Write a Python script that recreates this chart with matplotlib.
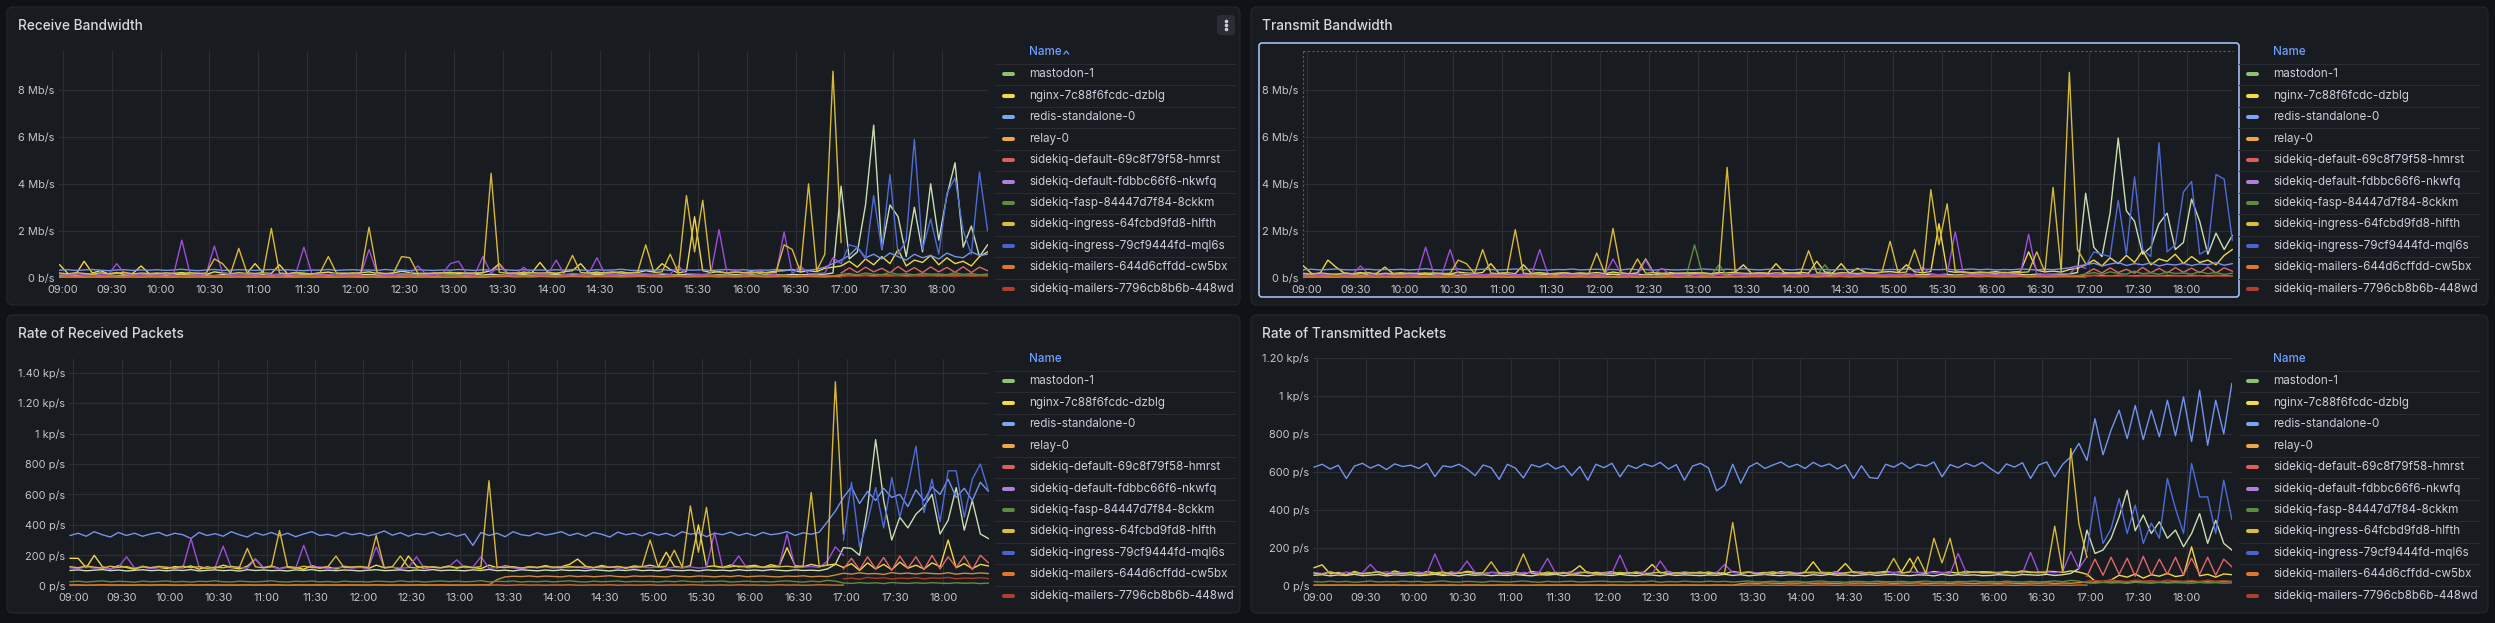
import numpy as np
import matplotlib.pyplot as plt
from matplotlib.patches import FancyBboxPatch

plt.rcParams['font.family'] = ['Inter', 'DejaVu Sans']

W, H = 2495, 623

names = [
    'mastodon-1', 'nginx-7c88f6fcdc-dzblg', 'redis-standalone-0', 'relay-0',
    'sidekiq-default-69c8f79f58-hmrst', 'sidekiq-default-fdbbc66f6-nkwfq',
    'sidekiq-fasp-84447d7f84-8ckkm', 'sidekiq-ingress-64fcbd9fd8-hlfth',
    'sidekiq-ingress-79cf9444fd-mql6s', 'sidekiq-mailers-644d6cffdd-cw5bx',
    'sidekiq-mailers-7796cb8b6b-448wd',
]
swatch_colors = ['#8fc16e', '#f2da48', '#7da5f4', '#efa54b', '#db605b', '#b07fdb',
                 '#5e8b3f', '#d8be3c', '#4a63cf', '#dd7630', '#ae4030']
line_colors = ['#c9ddb2', '#f0d848', '#7393ec', '#d08a3a', '#e0676a', '#9d4edd',
               '#5c8e43', '#d7b93a', '#4f6bd6', '#d66f2a', '#a93b2b']
# pods that live the whole time, only before, or only after the 16:58 rollout
span = ['all', 'all', 'all', 'all', 'new', 'old', 'all', 'old', 'new', 'old', 'new']

# 5 minute samples, 08:58 .. 18:28 (hours)
times = 8 + 58 / 60 + np.arange(115) * 5 / 60

hour_ticks = [9, 9.5, 10, 10.5, 11, 11.5, 12, 12.5, 13, 13.5, 14, 14.5, 15, 15.5,
              16, 16.5, 17, 17.5, 18]
hour_labels = ['09:00', '09:30', '10:00', '10:30', '11:00', '11:30', '12:00', '12:30',
               '13:00', '13:30', '14:00', '14:30', '15:00', '15:30', '16:00', '16:30',
               '17:00', '17:30', '18:00']
bw_ticks = [0, 2, 4, 6, 8]
bw_labels = ['0 b/s', '2 Mb/s', '4 Mb/s', '6 Mb/s', '8 Mb/s']
rxp_ticks = [0, 200, 400, 600, 800, 1000, 1200, 1400]
rxp_labels = ['0 p/s', '200 p/s', '400 p/s', '600 p/s', '800 p/s', '1 kp/s',
              '1.20 kp/s', '1.40 kp/s']
txp_ticks = [0, 200, 400, 600, 800, 1000, 1200]
txp_labels = ['0 p/s', '200 p/s', '400 p/s', '600 p/s', '800 p/s', '1 kp/s', '1.20 kp/s']

# ---------------- Receive Bandwidth (Mb/s) ----------------
rxb_mastodon = [
    0.10, 0.12, 0.09, 0.11, 0.13, 0.10, 0.12, 0.09, 0.11, 0.10, 0.13, 0.11,
    0.12, 0.10, 0.11, 0.14, 0.10, 0.12, 0.11, 0.09, 0.13, 0.11, 0.10, 0.12,
    0.11, 0.13, 0.10, 0.12, 0.09, 0.11, 0.12, 0.10, 0.13, 0.11, 0.10, 0.12,
    0.10, 0.12, 0.14, 0.11, 0.10, 0.13, 0.11, 0.12, 0.10, 0.11, 0.13, 0.10,
    0.12, 0.11, 0.10, 0.13, 0.11, 0.15, 0.12, 0.10, 0.11, 0.13, 0.10, 0.12,
    0.11, 0.13, 0.10, 0.12, 0.11, 0.10, 0.14, 0.11, 0.12, 0.10, 0.13, 0.11,
    0.12, 0.10, 0.13, 0.11, 0.12, 0.14, 0.11, 0.13, 0.10, 0.12, 0.11, 0.13,
    0.11, 0.12, 0.10, 0.13, 0.12, 0.11, 0.14, 0.12, 0.13, 0.11, 0.15, 0.20,
    3.90, 0.80, 1.10, 3.10, 6.50, 1.20, 3.10, 2.60, 0.90, 3.00, 1.10, 4.00,
    1.60, 3.50, 4.90, 1.30, 2.20, 0.90, 1.40,
]
rxb_nginx = [
    0.55, 0.18, 0.15, 0.70, 0.20, 0.30, 0.16, 0.22, 0.14, 0.19, 0.50, 0.17,
    0.20, 0.15, 0.18, 0.22, 0.16, 0.19, 0.14, 0.25, 0.20, 0.17, 0.21, 0.18,
    0.60, 0.20, 0.18, 0.55, 0.16, 0.22, 0.18, 0.15, 0.20, 0.24, 0.17, 0.19,
    0.16, 0.21, 0.25, 0.18, 0.15, 0.20, 0.28, 0.22, 0.17, 0.19, 0.16, 0.21,
    0.23, 0.18, 0.20, 0.17, 0.22, 0.30, 0.60, 0.19, 0.16, 0.24, 0.20, 0.65,
    0.22, 0.18, 0.26, 0.30, 0.60, 0.20, 0.24, 0.18, 0.21, 0.25, 0.19, 0.22,
    0.30, 0.24, 0.60, 0.35, 0.20, 0.28, 2.60, 0.30, 0.22, 0.26, 0.20, 0.24,
    0.21, 0.25, 0.19, 0.23, 0.28, 0.30, 0.35, 0.24, 0.30, 0.26, 0.40, 0.45,
    0.50, 0.70, 0.45, 0.80, 0.55, 0.90, 0.60, 1.20, 0.50, 0.75, 0.65, 0.95,
    0.55, 0.85, 0.60, 0.70, 0.50, 0.90, 1.10,
]
rxb_redis = [
    0.32, 0.34, 0.31, 0.33, 0.35, 0.32, 0.30, 0.33, 0.34, 0.31, 0.33, 0.32,
    0.34, 0.31, 0.33, 0.36, 0.32, 0.30, 0.33, 0.35, 0.31, 0.32, 0.34, 0.33,
    0.31, 0.33, 0.35, 0.32, 0.34, 0.31, 0.30, 0.33, 0.32, 0.35, 0.31, 0.33,
    0.34, 0.32, 0.33, 0.31, 0.35, 0.32, 0.33, 0.30, 0.34, 0.32, 0.31, 0.33,
    0.32, 0.35, 0.33, 0.31, 0.34, 0.32, 0.36, 0.33, 0.31, 0.34, 0.32, 0.33,
    0.31, 0.34, 0.32, 0.35, 0.33, 0.31, 0.34, 0.32, 0.33, 0.36, 0.32, 0.31,
    0.33, 0.32, 0.35, 0.31, 0.34, 0.33, 0.32, 0.34, 0.31, 0.33, 0.35, 0.32,
    0.34, 0.31, 0.33, 0.32, 0.35, 0.33, 0.31, 0.34, 0.32, 0.36, 0.45, 0.60,
    0.75, 0.95, 1.30, 0.85, 1.00, 0.80, 1.05, 0.90, 0.75, 1.00, 0.85, 0.95,
    0.80, 1.05, 0.90, 0.85, 1.10, 0.95, 1.00,
]
rxb_relay = [
    0.02, 0.03, 0.02, 0.02, 0.03, 0.02, 0.03, 0.02, 0.02, 0.03, 0.02, 0.03,
    0.03, 0.02, 0.02, 0.03, 0.02, 0.03, 0.02, 0.02, 0.03, 0.02, 0.03, 0.02,
    0.02, 0.03, 0.02, 0.03, 0.02, 0.02, 0.03, 0.02, 0.03, 0.02, 0.02, 0.03,
    0.03, 0.02, 0.03, 0.02, 0.02, 0.03, 0.02, 0.03, 0.02, 0.03, 0.02, 0.02,
    0.02, 0.03, 0.02, 0.03, 0.02, 0.05, 0.07, 0.06, 0.08, 0.07, 0.06, 0.07,
    0.07, 0.06, 0.08, 0.07, 0.06, 0.07, 0.08, 0.06, 0.07, 0.06, 0.08, 0.07,
    0.06, 0.08, 0.07, 0.06, 0.07, 0.08, 0.06, 0.07, 0.08, 0.06, 0.07, 0.06,
    0.08, 0.07, 0.06, 0.07, 0.08, 0.06, 0.07, 0.06, 0.08, 0.07, 0.06, 0.08,
    0.10, 0.12, 0.09, 0.11, 0.10, 0.12, 0.11, 0.09, 0.10, 0.12, 0.11, 0.10,
    0.11, 0.10, 0.12, 0.09, 0.11, 0.10, 0.12,
]
rxb_def69 = [0.20, 0.42, 0.22, 0.45, 0.25, 0.40, 0.21, 0.48, 0.24, 0.43, 0.22, 0.46,
             0.25, 0.44, 0.23, 0.47, 0.22, 0.45, 0.30]
rxb_deffd = [
    0.18, 0.14, 0.16, 0.13, 0.17, 0.15, 0.14, 0.60, 0.16, 0.13, 0.15, 0.17,
    0.14, 0.16, 0.15, 1.60, 0.18, 0.14, 0.16, 1.35, 0.20, 0.15, 0.14, 0.17,
    0.15, 0.18, 0.14, 0.16, 0.13, 0.17, 1.30, 0.15, 0.16, 0.14, 0.18, 0.15,
    0.17, 0.14, 1.20, 0.16, 0.15, 0.13, 0.18, 0.16, 0.50, 0.15, 0.14, 0.17,
    0.60, 0.70, 0.16, 0.15, 0.90, 0.18, 0.55, 0.16, 0.14, 0.45, 0.17, 0.15,
    0.16, 0.75, 0.14, 0.18, 0.15, 0.17, 0.85, 0.16, 0.14, 0.18, 0.15, 0.17,
    0.16, 0.14, 0.18, 0.15, 0.50, 0.17, 0.16, 0.14, 0.18, 2.05, 0.16, 0.35,
    0.15, 0.18, 0.30, 0.16, 0.14, 1.95, 0.17, 0.50, 0.16, 0.18, 0.20, 0.85,
    0.60,
]
rxb_fasp = [
    0.07, 0.08, 0.06, 0.09, 0.07, 0.08, 0.10, 0.07, 0.06, 0.08, 0.09, 0.07,
    0.08, 0.06, 0.09, 0.07, 0.08, 0.07, 0.06, 0.09, 0.08, 0.07, 0.10, 0.08,
    0.06, 0.08, 0.07, 0.09, 0.06, 0.08, 0.07, 0.10, 0.08, 0.06, 0.09, 0.07,
    0.09, 0.07, 0.08, 0.06, 0.09, 0.07, 0.08, 0.10, 0.07, 0.08, 0.06, 0.09,
    0.12, 0.08, 0.07, 0.09, 0.06, 0.08, 0.10, 0.07, 0.09, 0.08, 0.06, 0.09,
    0.08, 0.07, 0.09, 0.06, 0.10, 0.08, 0.07, 0.09, 0.08, 0.06, 0.09, 0.07,
    0.08, 0.10, 0.07, 0.09, 0.06, 0.08, 0.07, 0.09, 0.10, 0.07, 0.08, 0.06,
    0.09, 0.07, 0.08, 0.10, 0.07, 0.09, 0.06, 0.08, 0.09, 0.07, 0.10, 0.08,
    0.14, 0.18, 0.12, 0.20, 0.15, 0.13, 0.22, 0.14, 0.17, 0.12, 0.19, 0.15,
    0.16, 0.13, 0.21, 0.14, 0.18, 0.12, 0.16,
]
rxb_ing64 = [
    0.20, 0.16, 0.22, 0.18, 0.15, 0.21, 0.17, 0.19, 0.23, 0.16, 0.20, 0.18,
    0.17, 0.21, 0.19, 0.16, 0.22, 0.18, 0.20, 0.80, 0.60, 0.19, 1.25, 0.21,
    0.18, 0.22, 2.10, 0.20, 0.17, 0.21, 0.19, 0.16, 0.22, 0.90, 0.20, 0.18,
    0.21, 0.19, 2.15, 0.22, 0.18, 0.20, 0.90, 0.85, 0.19, 0.17, 0.21, 0.20,
    0.19, 0.22, 0.18, 0.21, 0.20, 4.45, 0.23, 0.19, 0.21, 0.18, 0.22, 0.20,
    0.21, 0.19, 0.23, 0.95, 0.22, 0.20, 0.18, 0.22, 0.25, 0.19, 0.21, 0.24,
    1.40, 0.22, 0.25, 1.00, 0.21, 3.50, 1.10, 3.30, 0.30, 0.24, 0.20, 0.23,
    0.22, 0.20, 0.24, 0.21, 0.23, 1.40, 1.20, 0.25, 4.00, 0.30, 1.00, 8.80,
    1.50,
]
rxb_ing79 = [0.60, 1.40, 1.30, 0.80, 3.50, 1.20, 4.40, 1.00, 1.60, 5.90, 1.20, 2.50,
             1.00, 3.60, 4.25, 2.00, 1.00, 4.50, 2.00]
rxb_mail644 = [
    0.04, 0.03, 0.05, 0.04, 0.03, 0.04, 0.05, 0.03, 0.04, 0.04, 0.03, 0.05,
    0.03, 0.04, 0.04, 0.05, 0.03, 0.04, 0.03, 0.05, 0.04, 0.03, 0.04, 0.04,
    0.05, 0.03, 0.04, 0.03, 0.04, 0.05, 0.04, 0.03, 0.04, 0.05, 0.03, 0.04,
    0.04, 0.05, 0.03, 0.04, 0.04, 0.03, 0.05, 0.04, 0.03, 0.04, 0.05, 0.03,
    0.03, 0.04, 0.05, 0.04, 0.03, 0.04, 0.04, 0.05, 0.03, 0.04, 0.03, 0.05,
    0.04, 0.03, 0.04, 0.05, 0.04, 0.03, 0.05, 0.04, 0.04, 0.03, 0.04, 0.05,
    0.05, 0.04, 0.03, 0.04, 0.05, 0.03, 0.04, 0.04, 0.05, 0.03, 0.04, 0.03,
    0.04, 0.05, 0.04, 0.03, 0.04, 0.05, 0.03, 0.04, 0.05, 0.04, 0.03, 0.05,
    0.04,
]
rxb_mail7796 = [0.05, 0.07, 0.06, 0.08, 0.05, 0.07, 0.06, 0.09, 0.05, 0.07, 0.06, 0.08,
                0.06, 0.07, 0.05, 0.08, 0.06, 0.07, 0.06]

# ---------------- Transmit Bandwidth (Mb/s) ----------------
txb_mastodon = [
    0.11, 0.13, 0.10, 0.12, 0.14, 0.11, 0.12, 0.10, 0.12, 0.11, 0.14, 0.12,
    0.13, 0.11, 0.12, 0.15, 0.11, 0.13, 0.12, 0.10, 0.14, 0.12, 0.11, 0.13,
    0.12, 0.14, 0.11, 0.13, 0.10, 0.12, 0.13, 0.11, 0.14, 0.12, 0.11, 0.13,
    0.11, 0.13, 0.15, 0.12, 0.11, 0.14, 0.12, 0.13, 0.11, 0.12, 0.14, 0.11,
    0.13, 0.12, 0.11, 0.14, 0.12, 0.16, 0.13, 0.11, 0.12, 0.14, 0.11, 0.13,
    0.12, 0.14, 0.11, 0.13, 0.12, 0.11, 0.15, 0.12, 0.13, 0.11, 0.14, 0.12,
    0.13, 0.11, 0.14, 0.12, 0.13, 0.15, 0.12, 0.14, 0.11, 0.13, 0.12, 0.14,
    0.12, 0.13, 0.11, 0.14, 0.13, 0.12, 0.15, 0.13, 0.14, 0.12, 0.16, 0.22,
    3.60, 1.30, 0.90, 2.75, 5.95, 2.85, 2.40, 1.00, 1.30, 2.30, 2.75, 1.20,
    1.50, 3.35, 2.40, 1.00, 1.90, 1.20, 1.80,
]
txb_nginx = [
    0.50, 0.18, 0.16, 0.75, 0.45, 0.20, 0.17, 0.22, 0.15, 0.19, 0.45, 0.18,
    0.21, 0.16, 0.18, 0.20, 0.17, 0.19, 0.15, 0.24, 0.20, 0.18, 0.22, 0.60,
    0.19, 0.21, 0.17, 0.55, 0.18, 0.22, 0.16, 0.19, 0.21, 0.17, 0.20, 0.18,
    0.22, 0.17, 0.24, 0.19, 0.16, 0.21, 0.80, 0.20, 0.18, 0.22, 0.17, 0.20,
    0.21, 0.19, 0.17, 0.22, 0.20, 0.24, 0.55, 0.18, 0.21, 0.19, 0.60, 0.22,
    0.20, 0.23, 0.19, 0.70, 0.24, 0.21, 0.60, 0.19, 0.40, 0.22, 0.20, 0.24,
    0.26, 0.22, 0.55, 0.25, 0.21, 0.27, 2.30, 0.28, 0.23, 0.25, 0.21, 0.24,
    0.22, 0.26, 0.20, 0.24, 0.27, 1.10, 0.32, 0.25, 0.28, 0.24, 0.35, 0.40,
    0.55, 0.75, 0.50, 0.85, 0.60, 0.95, 0.65, 1.15, 0.55, 0.80, 0.70, 1.00,
    0.60, 0.90, 0.65, 0.75, 0.55, 0.95, 1.20,
]
txb_redis = [
    0.34, 0.36, 0.33, 0.35, 0.37, 0.34, 0.33, 0.35, 0.36, 0.33, 0.35, 0.34,
    0.36, 0.33, 0.35, 0.38, 0.34, 0.33, 0.35, 0.37, 0.33, 0.34, 0.36, 0.35,
    0.33, 0.35, 0.37, 0.34, 0.36, 0.33, 0.32, 0.35, 0.34, 0.37, 0.33, 0.35,
    0.36, 0.34, 0.35, 0.33, 0.37, 0.34, 0.35, 0.32, 0.36, 0.34, 0.33, 0.35,
    0.34, 0.37, 0.35, 0.33, 0.36, 0.34, 0.38, 0.35, 0.33, 0.36, 0.34, 0.35,
    0.33, 0.36, 0.34, 0.37, 0.35, 0.33, 0.36, 0.34, 0.35, 0.38, 0.34, 0.33,
    0.35, 0.34, 0.37, 0.33, 0.36, 0.35, 0.34, 0.36, 0.33, 0.35, 0.37, 0.34,
    0.36, 0.33, 0.35, 0.34, 0.37, 0.35, 0.33, 0.36, 0.34, 0.38, 0.42, 0.50,
    0.55, 0.62, 0.50, 0.58, 0.65, 0.52, 0.60, 0.55, 0.63, 0.50, 0.58, 0.54,
    0.61, 0.52, 0.59, 0.55, 0.64, 0.53, 0.60,
]
txb_relay = [
    0.02, 0.02, 0.03, 0.02, 0.02, 0.03, 0.02, 0.02, 0.03, 0.02, 0.03, 0.02,
    0.02, 0.03, 0.02, 0.02, 0.03, 0.02, 0.03, 0.02, 0.02, 0.03, 0.02, 0.03,
    0.03, 0.02, 0.02, 0.03, 0.02, 0.03, 0.02, 0.02, 0.03, 0.02, 0.03, 0.02,
    0.02, 0.03, 0.02, 0.02, 0.03, 0.02, 0.03, 0.02, 0.02, 0.03, 0.02, 0.03,
    0.03, 0.02, 0.03, 0.02, 0.03, 0.04, 0.05, 0.06, 0.05, 0.06, 0.05, 0.06,
    0.06, 0.05, 0.06, 0.05, 0.06, 0.05, 0.06, 0.05, 0.06, 0.05, 0.06, 0.05,
    0.05, 0.06, 0.05, 0.06, 0.05, 0.06, 0.05, 0.06, 0.06, 0.05, 0.06, 0.05,
    0.06, 0.05, 0.06, 0.05, 0.06, 0.05, 0.06, 0.05, 0.06, 0.05, 0.06, 0.07,
    0.08, 0.10, 0.09, 0.08, 0.10, 0.09, 0.08, 0.10, 0.09, 0.08, 0.10, 0.09,
    0.08, 0.10, 0.09, 0.08, 0.10, 0.09, 0.08,
]
txb_def69 = [0.18, 0.38, 0.20, 0.42, 0.22, 0.36, 0.19, 0.44, 0.21, 0.40, 0.20, 0.43,
             0.23, 0.41, 0.21, 0.45, 0.20, 0.42, 0.28]
txb_deffd = [
    0.16, 0.13, 0.15, 0.12, 0.16, 0.14, 0.13, 0.50, 0.15, 0.12, 0.14, 0.16,
    0.13, 0.15, 0.14, 1.30, 0.17, 0.13, 1.20, 0.15, 0.18, 0.14, 0.13, 0.16,
    0.14, 0.17, 0.13, 0.15, 0.12, 1.20, 0.16, 0.14, 0.15, 0.13, 0.17, 0.14,
    0.16, 0.13, 0.80, 0.15, 0.14, 0.12, 0.75, 0.15, 0.40, 0.14, 0.13, 0.16,
    0.15, 0.14, 0.16, 0.13, 0.17, 0.15, 0.14, 0.16, 0.13, 0.15, 0.14, 0.16,
    0.14, 0.16, 0.13, 0.15, 0.14, 0.16, 0.15, 0.13, 0.16, 0.14, 0.15, 0.13,
    0.15, 0.13, 0.16, 0.14, 0.45, 0.15, 0.13, 0.16, 1.95, 0.14, 0.15, 0.16,
    0.14, 0.16, 0.13, 0.15, 0.17, 1.85, 0.16, 0.14, 0.15, 0.17, 0.16, 0.50,
    0.40,
]
txb_fasp = [
    0.08, 0.07, 0.09, 0.06, 0.08, 0.10, 0.07, 0.08, 0.06, 0.09, 0.07, 0.08,
    0.07, 0.09, 0.06, 0.08, 0.07, 0.10, 0.08, 0.06, 0.09, 0.07, 0.08, 0.07,
    0.09, 0.06, 0.08, 0.07, 0.10, 0.07, 0.08, 0.06, 0.09, 0.08, 0.07, 0.09,
    0.07, 0.08, 0.06, 0.09, 0.08, 0.07, 0.10, 0.06, 0.08, 0.07, 0.09, 0.08,
    1.40, 0.12, 0.08, 0.55, 0.09, 0.07, 0.08, 0.10, 0.06, 0.09, 0.08, 0.07,
    0.09, 0.08, 0.07, 0.10, 0.55, 0.09, 0.07, 0.08, 0.06, 0.09, 0.08, 0.10,
    0.07, 0.09, 0.08, 0.06, 0.10, 0.07, 0.09, 0.08, 0.07, 0.10, 0.06, 0.08,
    0.10, 0.08, 0.07, 0.09, 0.06, 0.08, 0.10, 0.07, 0.09, 0.08, 0.11, 0.09,
    0.16, 0.22, 0.14, 0.25, 0.18, 0.15, 0.28, 0.17, 0.21, 0.14, 0.24, 0.18,
    0.20, 0.15, 0.26, 0.17, 0.22, 0.14, 0.19,
]
txb_ing64 = [
    0.19, 0.15, 0.21, 0.17, 0.14, 0.20, 0.16, 0.18, 0.22, 0.15, 0.19, 0.17,
    0.16, 0.20, 0.18, 0.15, 0.21, 0.17, 0.19, 0.75, 0.60, 0.18, 1.20, 0.20,
    0.17, 0.21, 2.05, 0.19, 0.16, 0.20, 0.18, 0.15, 0.21, 0.17, 0.19, 0.16,
    1.05, 0.18, 2.10, 0.21, 0.17, 0.80, 0.19, 0.22, 0.18, 0.16, 0.20, 0.19,
    0.18, 0.21, 0.17, 0.20, 4.70, 0.22, 0.19, 0.18, 0.20, 0.17, 0.21, 0.19,
    0.20, 0.18, 1.15, 0.21, 0.19, 0.17, 0.22, 0.20, 0.18, 0.21, 0.19, 0.23,
    1.55, 0.21, 0.24, 1.20, 0.20, 3.75, 1.40, 3.15, 0.28, 0.23, 0.19, 0.22,
    0.21, 0.19, 0.23, 0.20, 0.22, 0.25, 1.10, 0.24, 3.85, 0.28, 8.75, 1.20,
    0.60,
]
txb_ing79 = [0.50, 1.10, 1.00, 0.90, 3.30, 1.00, 4.30, 1.20, 0.90, 5.75, 1.10, 1.40,
             3.65, 4.10, 1.00, 1.20, 4.40, 4.20, 1.60]
txb_mail644 = [
    0.03, 0.04, 0.04, 0.05, 0.03, 0.04, 0.03, 0.05, 0.04, 0.03, 0.04, 0.04,
    0.04, 0.03, 0.05, 0.04, 0.03, 0.04, 0.05, 0.03, 0.04, 0.04, 0.03, 0.05,
    0.04, 0.05, 0.03, 0.04, 0.04, 0.03, 0.05, 0.04, 0.03, 0.04, 0.05, 0.03,
    0.05, 0.03, 0.04, 0.04, 0.05, 0.03, 0.04, 0.03, 0.05, 0.04, 0.04, 0.03,
    0.04, 0.05, 0.03, 0.04, 0.05, 0.04, 0.03, 0.04, 0.04, 0.05, 0.03, 0.04,
    0.03, 0.04, 0.05, 0.03, 0.04, 0.04, 0.05, 0.03, 0.04, 0.05, 0.04, 0.03,
    0.04, 0.03, 0.04, 0.05, 0.03, 0.04, 0.05, 0.04, 0.03, 0.04, 0.05, 0.04,
    0.05, 0.04, 0.03, 0.04, 0.05, 0.03, 0.04, 0.04, 0.03, 0.05, 0.04, 0.04,
    0.03,
]
txb_mail7796 = [0.06, 0.08, 0.05, 0.07, 0.06, 0.09, 0.05, 0.07, 0.06, 0.08, 0.05, 0.07,
                0.07, 0.06, 0.08, 0.05, 0.07, 0.06, 0.07]

# ---------------- Rate of Received Packets (p/s) ----------------
rxp_mastodon = [
    100, 104, 98, 102, 106, 99, 103, 97, 101, 105, 99, 102,
    98, 103, 100, 106, 97, 101, 104, 99, 102, 96, 105, 100,
    103, 99, 101, 97, 104, 100, 106, 98, 102, 99, 103, 101,
    97, 102, 105, 99, 101, 104, 98, 103, 100, 106, 99, 102,
    101, 98, 104, 100, 107, 99, 102, 97, 105, 101, 98, 103,
    99, 104, 100, 102, 98, 105, 101, 97, 103, 100, 106, 99,
    102, 98, 105, 101, 99, 103, 97, 104, 100, 102, 98, 105,
    100, 103, 99, 106, 101, 98, 104, 100, 102, 99, 110, 140,
    250, 245, 200, 515, 960, 560, 300, 450, 380, 470, 520, 600,
    340, 430, 645, 365, 560, 340, 310,
]
rxp_nginx = [
    180, 180, 118, 200, 125, 110, 132, 120, 108, 128, 115, 122,
    112, 126, 118, 130, 108, 124, 115, 135, 120, 110, 128, 175,
    118, 130, 112, 125, 120, 108, 132, 116, 124, 110, 128, 119,
    126, 112, 135, 118, 122, 110, 195, 128, 114, 125, 118, 130,
    115, 128, 120, 112, 135, 118, 130, 122, 110, 126, 119, 132,
    120, 125, 140, 175, 128, 118, 133, 121, 127, 115, 130, 124,
    135, 122, 220, 128, 118, 132, 400, 125, 130, 120, 136, 124,
    128, 134, 120, 138, 126, 250, 132, 124, 140, 128, 135, 142,
    120, 145, 100, 150, 110, 140, 105, 155, 115, 135, 110, 150,
    125, 300, 118, 145, 112, 140, 130,
]
rxp_redis = [
    330, 345, 325, 355, 335, 320, 350, 330, 345, 325, 340, 350,
    328, 345, 335, 310, 350, 330, 342, 325, 355, 335, 320, 348,
    332, 350, 328, 345, 322, 340, 355, 330, 338, 325, 350, 335,
    345, 328, 340, 360, 332, 348, 325, 343, 335, 352, 330, 345,
    325, 340, 265, 350, 330, 345, 322, 355, 335, 328, 348, 332,
    342, 355, 330, 345, 325, 350, 338, 320, 352, 335, 345, 328,
    350, 332, 345, 325, 355, 338, 348, 322, 345, 335, 352, 330,
    345, 328, 350, 335, 342, 355, 330, 348, 338, 352, 420, 490,
    580, 650, 540, 620, 560, 640, 580, 600, 520, 630, 560, 650,
    600, 700, 580, 640, 560, 680, 620,
]
rxp_relay = [
    4, 5, 3, 4, 6, 4, 5, 3, 4, 5, 4, 6,
    5, 4, 3, 5, 4, 6, 4, 5, 3, 4, 5, 4,
    4, 6, 5, 3, 4, 5, 4, 6, 5, 4, 3, 5,
    5, 4, 6, 4, 3, 5, 4, 5, 6, 4, 5, 3,
    4, 5, 4, 6, 5, 40, 58, 62, 60, 64, 59, 63,
    61, 58, 65, 60, 63, 59, 62, 66, 60, 58, 64, 61,
    63, 60, 58, 65, 61, 59, 64, 62, 58, 63, 60, 66,
    59, 62, 64, 60, 58, 63, 61, 65, 59, 62, 60, 70,
    82, 76, 85, 78, 80, 74, 86, 79, 83, 77, 84, 80,
    78, 85, 76, 82, 79, 84, 80,
]
rxp_def69 = [110, 180, 105, 190, 110, 185, 100, 195, 115, 190, 105, 200,
             110, 190, 120, 195, 105, 200, 150]
rxp_deffd = [
    118, 112, 125, 115, 120, 110, 122, 190, 116, 124, 112, 119,
    121, 114, 118, 310, 125, 116, 120, 260, 118, 122, 114, 175,
    117, 123, 112, 120, 115, 265, 119, 124, 111, 118, 122, 116,
    120, 114, 255, 118, 122, 115, 119, 190, 113, 121, 117, 124,
    170, 118, 122, 190, 115, 120, 124, 117, 112, 121, 118, 123,
    116, 122, 119, 125, 113, 120, 118, 124, 115, 121, 117, 122,
    119, 123, 115, 121, 118, 124, 116, 120, 350, 118, 122, 195,
    117, 123, 119, 121, 125, 340, 118, 122, 126, 120, 160, 255,
    200,
]
rxp_fasp = [
    26, 30, 24, 28, 32, 25, 29, 27, 23, 30, 26, 28,
    31, 25, 28, 24, 29, 27, 32, 26, 24, 30, 27, 25,
    28, 32, 26, 24, 29, 27, 31, 25, 28, 23, 30, 26,
    27, 24, 30, 28, 25, 32, 26, 29, 24, 28, 31, 27,
    30, 26, 28, 33, 25, 29, 27, 31, 24, 28, 26, 30,
    25, 29, 32, 27, 24, 30, 26, 28, 31, 25, 29, 27,
    28, 24, 30, 26, 32, 27, 25, 29, 28, 31, 24, 27,
    30, 26, 28, 25, 29, 32, 27, 24, 30, 26, 35, 30,
    18, 15, 20, 16, 19, 14, 21, 17, 15, 19, 16, 20,
    17, 15, 19, 16, 18, 14, 17,
]
rxp_ing64 = [
    125, 118, 130, 122, 115, 128, 120, 126, 112, 124, 119, 127,
    121, 116, 128, 119, 125, 113, 122, 118, 127, 120, 245, 124,
    118, 126, 363, 121, 115, 128, 120, 117, 125, 195, 119, 123,
    126, 120, 330, 118, 124, 195, 122, 116, 127, 121, 118, 125,
    120, 124, 118, 126, 690, 122, 119, 125, 117, 123, 120, 128,
    122, 118, 126, 121, 124, 119, 127, 120, 125, 118, 123, 126,
    300, 124, 128, 233, 122, 525, 220, 515, 126, 121, 125, 129,
    123, 127, 121, 126, 124, 128, 122, 130, 613, 126, 135, 1340,
    340,
]
rxp_ing79 = [300, 680, 255, 420, 645, 380, 710, 450, 655, 917, 480, 700,
             420, 755, 755, 450, 700, 800, 625]
rxp_mail644 = [
    4, 5, 3, 4, 6, 4, 3, 5, 4, 6, 3, 4,
    5, 3, 4, 6, 4, 5, 3, 4, 5, 4, 6, 3,
    4, 5, 4, 3, 6, 4, 5, 3, 4, 5, 6, 4,
    3, 4, 5, 4, 6, 3, 4, 5, 3, 4, 6, 5,
    4, 3, 5, 6, 4, 5, 3, 4, 6, 4, 5, 3,
    5, 4, 6, 3, 4, 5, 4, 6, 3, 5, 4, 4,
    6, 3, 4, 5, 4, 6, 5, 3, 4, 5, 3, 6,
    4, 5, 3, 4, 6, 4, 5, 3, 4, 6, 5, 4,
    4,
]
rxp_mail7796 = [45, 50, 42, 55, 48, 52, 44, 50, 47, 53, 45, 51,
                49, 54, 46, 50, 48, 52, 47]

# ---------------- Rate of Transmitted Packets (p/s) ----------------
txp_mastodon = [
    55, 58, 52, 57, 54, 60, 53, 56, 59, 52, 57, 55,
    58, 53, 56, 60, 54, 57, 52, 59, 55, 58, 53, 56,
    54, 59, 55, 52, 58, 56, 60, 53, 57, 55, 52, 58,
    57, 54, 60, 55, 53, 58, 56, 52, 59, 54, 57, 55,
    53, 57, 55, 60, 54, 58, 52, 56, 59, 55, 53, 57,
    56, 52, 58, 54, 60, 55, 57, 53, 56, 59, 54, 58,
    59, 55, 53, 57, 56, 52, 60, 54, 58, 55, 57, 53,
    54, 58, 56, 53, 59, 57, 55, 60, 54, 58, 65, 90,
    293, 170, 188, 250, 363, 503, 290, 372, 275, 337, 250, 293,
    205, 275, 380, 223, 345, 223, 188,
]
txp_nginx = [
    95, 110, 62, 70, 58, 75, 64, 68, 72, 60, 78, 66,
    70, 62, 74, 68, 60, 72, 65, 76, 70, 63, 70, 68,
    64, 72, 60, 75, 68, 62, 70, 66, 73, 105, 65, 70,
    68, 74, 62, 70, 65, 72, 112, 67, 74, 63, 70, 66,
    72, 64, 70, 62, 75, 68, 73, 66, 70, 62, 74, 68,
    65, 72, 126, 70, 66, 74, 117, 68, 72, 64, 70, 75,
    68, 74, 144, 70, 65, 75, 68, 72, 66, 76, 70, 74,
    72, 68, 75, 70, 78, 72, 68, 76, 74, 70, 78, 72,
    60, 25, 22, 30, 55, 45, 62, 40, 58, 50, 65, 48,
    55, 205, 52, 60, 45, 62, 58,
]
txp_redis = [
    625, 640, 615, 635, 565, 630, 645, 620, 638, 612, 642, 628,
    635, 618, 645, 575, 632, 625, 640, 615, 580, 636, 622, 560,
    640, 620, 568, 638, 625, 645, 615, 632, 580, 628, 556, 640,
    622, 645, 574, 635, 618, 642, 628, 650, 615, 638, 556, 630,
    645, 620, 500, 530, 640, 540, 625, 648, 618, 636, 652, 625,
    640, 618, 650, 628, 642, 615, 638, 565, 632, 570, 565, 640,
    625, 648, 618, 640, 630, 652, 574, 638, 622, 645, 628, 650,
    618, 590, 642, 625, 648, 565, 636, 652, 574, 640, 680, 750,
    660, 880, 690, 820, 925, 775, 950, 770, 925, 785, 977, 790,
    995, 760, 1030, 740, 977, 800, 1065,
]
txp_relay = [
    3, 4, 2, 3, 4, 3, 2, 4, 3, 3, 4, 2,
    3, 2, 4, 3, 3, 4, 2, 3, 4, 3, 2, 4,
    4, 3, 2, 3, 4, 2, 3, 4, 3, 2, 4, 3,
    2, 4, 3, 3, 2, 4, 3, 2, 4, 3, 3, 4,
    3, 2, 4, 3, 3, 10, 14, 12, 15, 13, 12, 14,
    13, 15, 12, 14, 13, 12, 15, 13, 14, 12, 13, 15,
    12, 14, 13, 15, 12, 13, 14, 12, 15, 13, 12, 14,
    14, 12, 15, 13, 12, 14, 13, 15, 12, 14, 13, 16,
    20, 18, 22, 19, 21, 18, 23, 20, 19, 22, 18, 21,
    20, 22, 19, 21, 18, 22, 20,
]
txp_def69 = [50, 140, 55, 150, 60, 145, 50, 155, 55, 140, 60, 150,
             55, 145, 60, 150, 55, 140, 100]
txp_deffd = [
    70, 64, 75, 62, 72, 66, 68, 112, 65, 74, 63, 70,
    66, 72, 64, 167, 70, 65, 73, 130, 68, 62, 71, 66,
    74, 63, 70, 67, 72, 144, 65, 71, 64, 73, 68, 62,
    70, 66, 161, 64, 72, 68, 63, 130, 70, 65, 74, 67,
    64, 71, 68, 112, 70, 65, 73, 67, 62, 72, 68, 74,
    66, 70, 64, 73, 68, 71, 65, 74, 69, 63, 72, 67,
    71, 65, 74, 68, 72, 66, 70, 64, 170, 69, 73, 67,
    65, 72, 68, 74, 66, 175, 70, 73, 68, 75, 180, 90,
    153,
]
txp_fasp = [
    22, 19, 24, 20, 23, 18, 21, 25, 19, 22, 20, 24,
    21, 23, 18, 22, 25, 20, 19, 23, 21, 18, 24, 22,
    19, 22, 25, 21, 18, 23, 20, 22, 24, 19, 21, 23,
    24, 20, 22, 19, 23, 21, 25, 18, 22, 20, 24, 21,
    20, 24, 21, 23, 19, 22, 25, 20, 21, 24, 19, 22,
    23, 19, 22, 25, 20, 21, 18, 23, 22, 20, 24, 21,
    21, 23, 19, 22, 24, 20, 22, 19, 23, 21, 25, 20,
    22, 20, 24, 21, 19, 23, 20, 22, 25, 21, 28, 24,
    15, 13, 17, 14, 16, 12, 18, 15, 13, 17, 14, 16,
    15, 13, 17, 14, 16, 13, 15,
]
txp_ing64 = [
    66, 60, 72, 64, 58, 70, 62, 68, 74, 61, 67, 63,
    70, 64, 59, 68, 72, 62, 66, 71, 63, 69, 126, 65,
    62, 71, 167, 66, 60, 72, 64, 69, 58, 67, 73, 61,
    68, 63, 70, 65, 72, 60, 67, 71, 62, 69, 64, 70,
    66, 72, 63, 69, 333, 65, 71, 62, 68, 73, 64, 70,
    63, 69, 72, 65, 70, 62, 68, 74, 64, 71, 66, 69,
    144, 67, 72, 153, 65, 250, 120, 250, 70, 66, 73, 68,
    71, 65, 70, 67, 74, 69, 72, 66, 314, 70, 723, 328,
    150,
]
txp_ing79 = [180, 468, 223, 300, 460, 275, 425, 223, 330, 250, 565, 407,
             275, 644, 468, 468, 275, 556, 350]
txp_mail644 = [
    3, 2, 4, 3, 2, 3, 4, 2, 3, 3, 4, 2,
    2, 3, 3, 4, 2, 3, 2, 4, 3, 2, 3, 3,
    4, 2, 3, 2, 3, 4, 3, 2, 3, 4, 2, 3,
    3, 4, 2, 3, 3, 2, 4, 3, 2, 3, 4, 2,
    2, 3, 4, 3, 2, 3, 3, 4, 2, 3, 2, 4,
    3, 2, 3, 4, 3, 2, 4, 3, 3, 2, 3, 4,
    4, 3, 2, 3, 4, 2, 3, 3, 4, 2, 3, 2,
    3, 4, 3, 2, 3, 4, 2, 3, 4, 3, 2, 4,
    3,
]
txp_mail7796 = [24, 28, 22, 30, 26, 23, 29, 25, 27, 22, 30, 26,
                24, 28, 23, 29, 25, 27, 24]

# ---------------- layout (pixels of the 2495x623 canvas) ----------------
x_lo, x_hi = 8 + 57.5 / 60, 18 + 28.3 / 60

panels = [
    dict(title='Receive Bandwidth', box=(7, 7, 1240, 305), title_x=18,
         plot=(58.9, 51.0, 988.1, 277.7), ymax=9.66, ticks=bw_ticks, labels=bw_labels,
         legend_x=995, header_y=52,
         series=[rxb_mastodon, rxb_nginx, rxb_redis, rxb_relay, rxb_def69, rxb_deffd,
                 rxb_fasp, rxb_ing64, rxb_ing79, rxb_mail644, rxb_mail7796]),
    dict(title='Transmit Bandwidth', box=(1251, 7, 2488, 305), title_x=1262,
         plot=(1302.6, 51.0, 2232.8, 277.7), ymax=9.66, ticks=bw_ticks, labels=bw_labels,
         legend_x=2239, header_y=52,
         series=[txb_mastodon, txb_nginx, txb_redis, txb_relay, txb_def69, txb_deffd,
                 txb_fasp, txb_ing64, txb_ing79, txb_mail644, txb_mail7796]),
    dict(title='Rate of Received Packets', box=(7, 315, 1240, 613), title_x=18,
         plot=(69.3, 359.3, 988.9, 585.7), ymax=1488, ticks=rxp_ticks, labels=rxp_labels,
         legend_x=995, header_y=359,
         series=[rxp_mastodon, rxp_nginx, rxp_redis, rxp_relay, rxp_def69, rxp_deffd,
                 rxp_fasp, rxp_ing64, rxp_ing79, rxp_mail644, rxp_mail7796]),
    dict(title='Rate of Transmitted Packets', box=(1251, 315, 2488, 613), title_x=1262,
         plot=(1313.3, 358.0, 2232.3, 585.7), ymax=1200, ticks=txp_ticks, labels=txp_labels,
         legend_x=2239, header_y=359,
         series=[txp_mastodon, txp_nginx, txp_redis, txp_relay, txp_def69, txp_deffd,
                 txp_fasp, txp_ing64, txp_ing79, txp_mail644, txp_mail7796]),
]


def fig_box(x0, y0, x1, y1):
    return [x0 / W, 1 - y1 / H, (x1 - x0) / W, (y1 - y0) / H]


fig = plt.figure(figsize=(W / 100, H / 100), dpi=100, facecolor='#111217')
bg = fig.add_axes([0, 0, 1, 1])
bg.set_xlim(0, W)
bg.set_ylim(H, 0)
bg.axis('off')

text_col = '#ccccdc'
for p in panels:
    x0, y0, x1, y1 = p['box']
    bg.add_patch(FancyBboxPatch((x0, y0), x1 - x0, y1 - y0,
                                boxstyle='round,pad=0,rounding_size=6',
                                fc='#181b1f', ec='#25272c', lw=0.8))
    bg.text(p['title_x'], y0 + 19, p['title'], fontsize=9.8, color='#d8d9de',
            va='center', ha='left', weight='medium')

    # legend table
    L, hy = p['legend_x'], p['header_y']
    bg.text(L + 34, hy, 'Name', fontsize=8.4, color='#6e9fff', va='center',
            weight='medium')
    for j, name in enumerate(names):
        ys = hy + 12 + 21.45 * j
        bg.plot([L, L + 240], [ys, ys], color='#2a2c31', lw=0.8)
        yr = hy + 22.3 + 21.45 * j
        bg.plot([L + 9, L + 18], [yr, yr], color=swatch_colors[j], lw=2.9,
                solid_capstyle='round')
        bg.text(L + 34, yr, name, fontsize=8.4, color=text_col, va='center')

    # plot area
    ax = fig.add_axes(fig_box(*p['plot']))
    ax.set_facecolor('none')
    ax.set_xlim(x_lo, x_hi)
    ax.set_ylim(0, p['ymax'])
    for s in ax.spines.values():
        s.set_visible(False)
    ax.set_xticks(hour_ticks)
    ax.set_xticklabels(hour_labels)
    ax.set_yticks(p['ticks'])
    ax.set_yticklabels(p['labels'])
    ax.tick_params(length=0, labelsize=7.9, colors='#c5c6ce')
    ax.tick_params(axis='y', pad=3)
    ax.tick_params(axis='x', pad=5)
    ax.grid(True, color='#2c2e33', lw=0.8)
    ax.set_axisbelow(True)
    for i, vals in enumerate(p['series']):
        if span[i] == 'all':
            x = times
        elif span[i] == 'old':
            x = times[:97]
        else:
            x = times[96:]
        ax.plot(x, vals, color=line_colors[i], lw=1.0, zorder=2 + i)

# sort arrow next to the first header and the panel menu button
bg.plot([1064, 1066.3, 1068.6], [54, 51, 54], color='#6e9fff', lw=0.9)
bg.add_patch(FancyBboxPatch((1217, 15), 18, 20, boxstyle='round,pad=0,rounding_size=3',
                            fc='#2a2d33', ec='none'))
bg.scatter([1226, 1226, 1226], [21, 25, 29], s=2.5, color=text_col, zorder=5)

# hovered panel outline and cursor guide in the transmit panel
bg.add_patch(FancyBboxPatch((1259, 43), 980, 254, boxstyle='round,pad=0,rounding_size=3',
                            fc='none', ec='#a3bdf0', lw=1.2))
bg.plot([1303, 1303], [51, 278], color='#5b5e66', lw=0.8, ls=(0, (2, 2)))
bg.plot([1303, 2233], [51, 51], color='#5b5e66', lw=0.8, ls=(0, (2, 2)))

fig.savefig('out.png', dpi=100, facecolor=fig.get_facecolor())
